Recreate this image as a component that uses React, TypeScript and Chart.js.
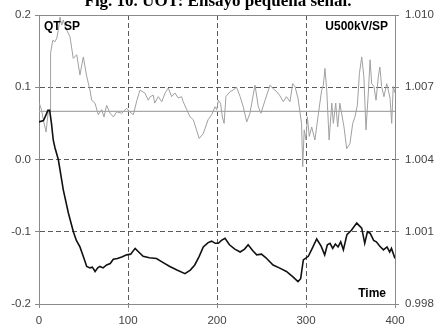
import React, { useEffect, useRef } from "react";
import { Chart, registerables } from "chart.js";

Chart.register(...registerables);

// Black trace: QT/SP (left axis)
const qtTime = [
  0, 5, 8, 10, 12, 14, 16, 18, 21.7, 27.3, 33, 38.6, 42, 46, 50, 53.6, 57.3, 60, 63, 66,
  68.5, 72, 76, 80, 83.5, 88, 93, 98.5, 103, 108, 112, 117, 124, 132, 140, 147, 155, 164, 170, 175,
  180, 184.6, 190, 194, 198, 201.5, 205, 209, 214, 220, 226, 231, 235, 240, 244.6, 250, 255, 263, 270, 278,
  285, 291, 294, 297, 302.6, 307, 312, 317, 321, 324, 327, 330, 333, 336, 339, 342, 346, 351, 357, 362.6,
  366, 369, 372, 376, 379, 383, 387, 391, 394, 396, 400,
];
const qtValues = [
  0.052, 0.054, 0.062, 0.068, 0.068, 0.05, 0.027, 0.016, 0.0, -0.042, -0.074, -0.1, -0.112, -0.121, -0.135, -0.148, -0.15, -0.149, -0.155, -0.15,
  -0.148, -0.15, -0.146, -0.144, -0.138, -0.137, -0.135, -0.132, -0.131, -0.123, -0.128, -0.134, -0.136, -0.137, -0.143, -0.148, -0.153, -0.158, -0.153, -0.146,
  -0.134, -0.121, -0.115, -0.113, -0.116, -0.116, -0.112, -0.109, -0.118, -0.124, -0.128, -0.124, -0.118, -0.126, -0.132, -0.131, -0.136, -0.146, -0.15, -0.155,
  -0.162, -0.169, -0.165, -0.139, -0.134, -0.123, -0.11, -0.12, -0.132, -0.118, -0.116, -0.123, -0.117, -0.121, -0.114, -0.125, -0.104, -0.098, -0.088, -0.095,
  -0.116, -0.1, -0.102, -0.112, -0.114, -0.12, -0.125, -0.121, -0.128, -0.123, -0.137,
];

// Grey trace: U500kV/SP (right axis)
const uTime = [
  0.3, 3, 4.5, 7.9, 10.4, 12.4, 13, 15.4, 18, 20, 21.7, 23.6, 25.5, 27.3, 30, 34.8, 38.5, 42.4, 46, 49.8,
  53.6, 57.3, 59.2, 62.9, 66.6, 70.4, 73, 76, 79.8, 83.5, 87.3, 92.9, 98.5, 102, 106, 110, 113.5, 119, 122.8, 125,
  128.4, 130, 134, 138, 141.6, 145.3, 149, 152.8, 156.5, 160.3, 162, 166, 169.7, 173.4, 177, 180, 184.6, 190, 194, 197.8,
  199.7, 201.5, 204, 206, 208, 210, 214.6, 218, 222, 226, 229.5, 233.4, 237, 242.7, 246.4, 249.4, 254, 259.6, 263, 267,
  270.8, 274.5, 278, 282, 285, 287.6, 291, 295, 296.3, 298, 300, 301.5, 303.7, 306.4, 310, 314, 317.6, 319.5, 321.3, 323.3,
  326, 329, 330.7, 333.4, 335.6, 338, 342.7, 345.7, 349.4, 352.5, 355, 357.7, 360, 362.6, 365, 367.4, 370, 372, 373.8, 376.4,
  378.7, 381.3, 383, 385, 387.6, 390.7, 392.5, 394.4, 396.3, 398, 400,
];
const uValues = [
  1.00634, 1.00604, 1.00571, 1.00514, 1.00598, 1.00604, 1.00841, 1.00895, 1.00889, 1.00904, 1.00937, 1.00991, 1.00958, 1.00979, 1.00946, 1.0091, 1.0082, 1.00835, 1.00751, 1.00826,
  1.00745, 1.00688, 1.00646, 1.00634, 1.00586, 1.00607, 1.00577, 1.00625, 1.00592, 1.00577, 1.00598, 1.00592, 1.00613, 1.00598, 1.00586, 1.00646, 1.00688, 1.00676, 1.00646, 1.00661,
  1.00667, 1.00634, 1.00661, 1.0064, 1.00676, 1.00697, 1.00661, 1.00676, 1.00655, 1.00661, 1.0064, 1.00607, 1.00577, 1.00565, 1.00523, 1.00487, 1.00508, 1.00565, 1.00586, 1.00619,
  1.00607, 1.00646, 1.00634, 1.00577, 1.0055, 1.00661, 1.00682, 1.00688, 1.007, 1.00661, 1.00619, 1.00556, 1.00592, 1.00709, 1.00619, 1.00592, 1.00646, 1.00709, 1.00694, 1.00682,
  1.00664, 1.0064, 1.00661, 1.0064, 1.00715, 1.00703, 1.00655, 1.0055, 1.0037, 1.00523, 1.00481, 1.00577, 1.00496, 1.00535, 1.00481, 1.00592, 1.00688, 1.00709, 1.00778, 1.00688,
  1.00481, 1.00634, 1.0055, 1.00634, 1.00535, 1.00634, 1.00535, 1.00445, 1.00466, 1.0055, 1.00577, 1.00625, 1.00757, 1.00826, 1.00745, 1.00523, 1.00676, 1.00814, 1.00715, 1.00703,
  1.00646, 1.00745, 1.00784, 1.00703, 1.00661, 1.00715, 1.00688, 1.00655, 1.0055, 1.00703, 1.00676,
];

// Voltage set point (right axis)
const spTime = [0, 400];
const spValues = [1.006, 1.006];

const xTicks = [0, 100, 200, 300, 400];
const leftTicks = [-0.2, -0.1, 0.0, 0.1, 0.2];
const rightTicks = [0.998, 1.001, 1.004, 1.007, 1.01];

const titleText = "Fig. 10. UOT: Ensayo pequeña señal.";
const leftLabel = "QT SP";
const rightLabel = "U500kV/SP";
const timeLabel = "Time";

const SANS = '"Liberation Sans", Arial, sans-serif';
const GRID = "#5a5a5a";
const AXIS = "#8a8a8a";

const pairs = (xs: number[], ys: number[]) => xs.map((x, i) => ({ x, y: ys[i] }));

const annotations = {
  id: "annotations",
  afterDraw(chart: any) {
    const { ctx, chartArea } = chart;
    ctx.save();
    // top frame line
    ctx.strokeStyle = AXIS;
    ctx.lineWidth = 1;
    ctx.beginPath();
    ctx.moveTo(chartArea.left, chartArea.top + 0.5);
    ctx.lineTo(chartArea.right, chartArea.top + 0.5);
    ctx.stroke();

    ctx.fillStyle = "#000";
    ctx.font = `bold 17px "Liberation Serif", "Times New Roman", serif`;
    ctx.textAlign = "center";
    ctx.textBaseline = "alphabetic";
    ctx.fillText(titleText, 218, 6);

    ctx.font = `bold 12px ${SANS}`;
    ctx.textBaseline = "middle";
    ctx.textAlign = "left";
    ctx.fillText(leftLabel, chartArea.left + 5, chartArea.top + 12);
    ctx.textAlign = "right";
    ctx.fillText(rightLabel, chartArea.right - 7, chartArea.top + 12);
    ctx.fillText(timeLabel, chartArea.right - 9, chartArea.bottom - 10);
    ctx.restore();
  },
};

export default function App() {
  const ref = useRef<HTMLCanvasElement | null>(null);

  useEffect(() => {
    if (!ref.current) return;
    const edgeColor = (ends: number[]) => (c: any) =>
      c.tick && ends.some((e) => Math.abs(c.tick.value - e) < 1e-9) ? "rgba(0,0,0,0)" : GRID;

    const chart = new Chart(ref.current, {
      type: "line",
      data: {
        datasets: [
          {
            data: pairs(qtTime, qtValues),
            yAxisID: "y",
            borderColor: "#111",
            borderWidth: 1.6,
            pointRadius: 0,
            order: 0,
          },
          {
            data: pairs(uTime, uValues),
            yAxisID: "y1",
            borderColor: "#a0a0a0",
            borderWidth: 1,
            pointRadius: 0,
            order: 1,
          },
          {
            data: pairs(spTime, spValues),
            yAxisID: "y1",
            borderColor: "#a8a8a8",
            borderWidth: 1.2,
            pointRadius: 0,
            order: 2,
          },
        ],
      },
      options: {
        responsive: false,
        animation: false,
        events: [],
        layout: { padding: { top: 15, left: 0, right: 0, bottom: 0 } },
        plugins: { legend: { display: false }, tooltip: { enabled: false }, title: { display: false } },
        scales: {
          x: {
            type: "linear",
            min: 0,
            max: 400,
            afterBuildTicks: (s: any) => {
              s.ticks = xTicks.map((v) => ({ value: v }));
            },
            afterFit: (s: any) => {
              s.height = 23;
            },
            grid: { color: edgeColor([0, 400]), tickColor: AXIS, tickLength: 4, lineWidth: 1 },
            border: { display: true, color: AXIS, width: 1, dash: [5, 3] },
            ticks: { color: "#444", padding: 6, maxRotation: 0, font: { family: SANS, size: 11.5 }, callback: (v: any) => String(v) },
          },
          y: {
            type: "linear",
            position: "left",
            min: -0.2,
            max: 0.2,
            afterBuildTicks: (s: any) => {
              s.ticks = leftTicks.map((v) => ({ value: v }));
            },
            afterFit: (s: any) => {
              s.width = 39;
            },
            grid: { color: edgeColor([-0.2, 0.2]), tickColor: AXIS, tickLength: 4, lineWidth: 1 },
            border: { display: true, color: AXIS, width: 1, dash: [5, 3] },
            ticks: { color: "#444", padding: 4, font: { family: SANS, size: 11.5 }, callback: (v: any) => Number(v).toFixed(1) },
          },
          y1: {
            type: "linear",
            position: "right",
            min: 0.998,
            max: 1.01,
            afterBuildTicks: (s: any) => {
              s.ticks = rightTicks.map((v) => ({ value: v }));
            },
            afterFit: (s: any) => {
              s.width = 39;
            },
            grid: { drawOnChartArea: false, tickColor: AXIS, tickLength: 4 },
            border: { display: true, color: AXIS, width: 1 },
            ticks: { color: "#444", padding: 6, font: { family: SANS, size: 11.5 }, callback: (v: any) => Number(v).toFixed(3) },
          },
        },
      },
      plugins: [annotations],
    } as any);
    return () => chart.destroy();
  }, []);

  return (
    <div style={{ position: "absolute", left: 0, top: 0, width: 434, height: 327, background: "#fff" }}>
      <canvas ref={ref} width={434} height={327} style={{ display: "block" }} />
    </div>
  );
}
